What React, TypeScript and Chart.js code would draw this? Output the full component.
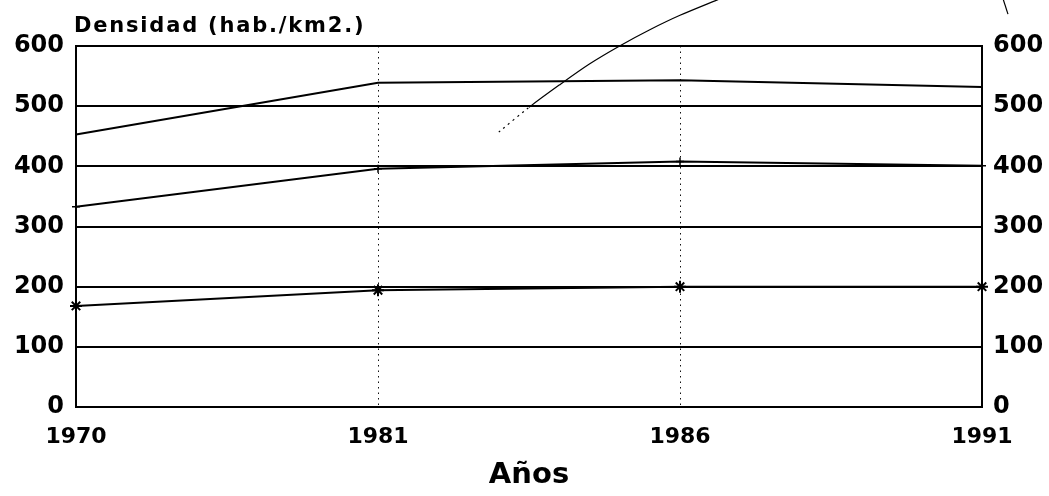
import React, { useEffect, useRef } from "react";
import { Chart, registerables } from "chart.js";

Chart.register(...registerables);

const anios = ["1970", "1981", "1986", "1991"];
const serieSuperior = [453, 539, 543, 532];
const serieMedia = [333, 396, 408, 401];
const serieInferior = [168, 194, 200, 200];
const trazoX = [1.4, 1.5, 1.6, 1.7, 1.8, 1.9, 2.0, 2.13];
const trazoY = [457, 498, 535, 570, 600, 627, 651, 678];
const trazo2X = [3.07, 3.086];
const trazo2Y = [678, 653];
const titulo = "Densidad (hab./km2.)";
const tituloEje = "Años";
const yMin = 0;
const yMax = 600;
const yPaso = 100;

const FUENTE = '"DejaVu Sans", sans-serif';

const tituloPlugin = {
  id: "tituloDensidad",
  afterDraw(chart: any) {
    const { ctx, chartArea } = chart;
    ctx.save();
    ctx.font = `bold 21px ${FUENTE}`;
    (ctx as any).letterSpacing = "1.8px";
    ctx.fillStyle = "#000";
    ctx.textAlign = "left";
    ctx.textBaseline = "alphabetic";
    ctx.fillText(titulo, chartArea.left - 2, 32);
    ctx.restore();
  },
};

export default function App() {
  const ref = useRef<HTMLCanvasElement | null>(null);

  useEffect(() => {
    if (!ref.current) return;
    const yFont = { family: FUENTE, size: 24, weight: "bold" as const };
    const xFont = { family: FUENTE, size: 22, weight: "bold" as const };
    const linea = {
      borderColor: "#000",
      backgroundColor: "#000",
      borderWidth: 2,
      tension: 0,
      fill: false,
      xAxisID: "x",
      yAxisID: "y",
    };
    const chart = new Chart(ref.current, {
      type: "line",
      data: {
        labels: anios,
        datasets: [
          { ...linea, label: "Serie 1", data: serieSuperior, pointRadius: 0 },
          {
            ...linea,
            label: "Serie 2",
            data: serieMedia,
            pointStyle: "cross",
            pointRadius: 4,
            pointBorderWidth: 1.5,
          },
          {
            ...linea,
            label: "Serie 3",
            data: serieInferior,
            pointStyle: "star",
            pointRadius: 6,
            pointBorderWidth: 2,
          },
          {
            label: "trazo",
            data: trazoX.map((x, i) => ({ x, y: trazoY[i] })) as any,
            xAxisID: "xA",
            yAxisID: "y",
            borderColor: "#000",
            borderWidth: 1.2,
            pointRadius: 0,
            tension: 0.3,
            clip: false as any,
            segment: {
              borderDash: (c: any) => (c.p0DataIndex === 0 ? [2, 4] : undefined),
            },
          } as any,
          {
            label: "trazo2",
            data: trazo2X.map((x, i) => ({ x, y: trazo2Y[i] })) as any,
            xAxisID: "xA",
            yAxisID: "y",
            borderColor: "#000",
            borderWidth: 1.2,
            pointRadius: 0,
            tension: 0,
            clip: false as any,
          } as any,
        ],
      },
      options: {
        responsive: false,
        animation: false,
        devicePixelRatio: 1,
        layout: { padding: { top: 46, left: 0, right: 0, bottom: 0 } },
        plugins: {
          legend: { display: false },
          tooltip: { enabled: false },
          title: { display: false },
        },
        scales: {
          x: {
            type: "category",
            offset: false,
            afterFit: (s: any) => {
              s.height = 89;
            },
            grid: {
              display: true,
              color: "#111",
              lineWidth: 1,
              drawTicks: false,
            },
            border: { display: true, color: "#000", width: 2, dash: [1.5, 4] },
            ticks: {
              color: "#000",
              font: xFont,
              padding: 17,
              autoSkip: false,
              maxRotation: 0,
            },
            title: {
              display: true,
              text: tituloEje,
              color: "#000",
              font: { family: FUENTE, size: 29, weight: "bold" },
              padding: { top: 0, bottom: 3 },
            },
          },
          xA: {
            type: "linear",
            display: false,
            min: 0,
            max: 3,
          },
          y: {
            type: "linear",
            position: "left",
            min: yMin,
            max: yMax,
            afterFit: (s: any) => {
              s.width = 76;
            },
            grid: { color: "#000", lineWidth: 2, drawTicks: false },
            border: { display: true, color: "#000", width: 2 },
            ticks: {
              stepSize: yPaso,
              color: "#000",
              font: yFont,
              padding: 12,
            },
          },
          yR: {
            type: "linear",
            position: "right",
            min: yMin,
            max: yMax,
            afterFit: (s: any) => {
              s.width = 67;
            },
            grid: { drawOnChartArea: false, drawTicks: false },
            border: { display: true, color: "#000", width: 2 },
            ticks: {
              stepSize: yPaso,
              color: "#000",
              font: yFont,
              padding: 11,
            },
          },
        },
      },
      plugins: [tituloPlugin],
    });
    return () => chart.destroy();
  }, []);

  return (
    <div style={{ position: "absolute", left: 0, top: 0, width: 1049, height: 496, background: "#fff" }}>
      <canvas ref={ref} width={1049} height={496} />
    </div>
  );
}
